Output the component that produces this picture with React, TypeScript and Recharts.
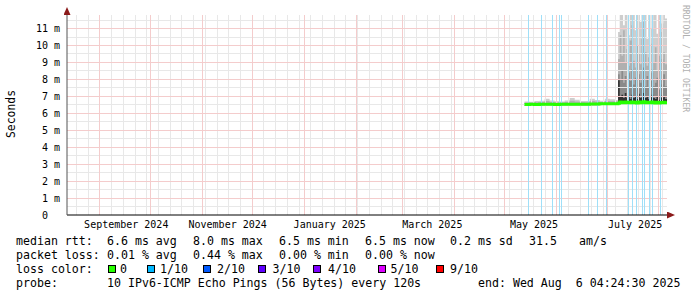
import React from 'react';
import { ComposedChart, Area, Line, XAxis, YAxis, ReferenceLine } from 'recharts';

// time unit: days since 1 Sep 2024 00:00
const startDay = -19.72;
const endDay = 338.85;

const days = [
  253.7, 256.7, 259.7, 262.7, 265.7, 268.7, 271.7, 274.7, 277.7, 280.7,
  283.7, 286.7, 289.7, 292.7, 295.7, 298.7, 301.7, 304.7, 307.7,
  309.6, 310.6, 311.6, 312.6, 313.6, 314.6, 315.6, 316.6, 317.6, 318.6,
  319.6, 320.6, 321.6, 322.6, 323.6, 324.6, 325.6, 326.6, 327.6, 328.6,
  329.6, 330.6, 331.6, 332.6, 333.6, 334.6, 335.6, 336.6, 337.6,
];

// milliseconds
const median = [
  6.52, 6.53, 6.52, 6.53, 6.54, 6.53, 6.52, 6.53, 6.54, 6.53,
  6.54, 6.54, 6.53, 6.55, 6.55, 6.56, 6.56, 6.57, 6.57,
  6.60, 6.66, 6.64, 6.62, 6.67, 6.63, 6.65, 6.62, 6.66, 6.63,
  6.65, 6.61, 6.67, 6.63, 6.65, 6.68, 6.62, 6.65, 6.62, 6.63,
  6.66, 6.62, 6.61, 6.65, 6.61, 6.64, 6.62, 6.65, 6.62,
];

const smokeMin = [
  6.47, 6.47, 6.47, 6.47, 6.48, 6.47, 6.47, 6.47, 6.48, 6.47,
  6.48, 6.48, 6.47, 6.48, 6.48, 6.49, 6.49, 6.50, 6.50,
  6.52, 6.54, 6.53, 6.52, 6.54, 6.52, 6.53, 6.52, 6.54, 6.52,
  6.53, 6.51, 6.54, 6.52, 6.53, 6.55, 6.52, 6.53, 6.51, 6.52,
  6.54, 6.52, 6.51, 6.53, 6.51, 6.53, 6.52, 6.53, 6.51,
];

const smokeMax = [
  6.70, 6.68, 6.72, 6.74, 6.86, 6.76, 6.71, 6.70, 6.75, 6.90,
  6.80, 6.73, 6.72, 6.86, 6.78, 6.74, 6.86, 6.83, 6.79,
  10.8, 11.8, 11.8, 11.2, 11.8, 11.8, 10.6, 11.8, 11.8, 11.8,
  10.9, 11.8, 11.8, 11.4, 11.8, 11.8, 11.8, 10.4, 11.8, 11.8,
  11.0, 11.8, 11.8, 10.7, 11.8, 11.8, 11.3, 11.8, 11.6,
];

const smokeMid = [
  6.64, 6.63, 6.65, 6.66, 6.72, 6.67, 6.64, 6.64, 6.67, 6.74,
  6.70, 6.66, 6.65, 6.73, 6.69, 6.67, 6.72, 6.71, 6.69,
  9.2, 10.6, 9.4, 10.9, 9.0, 9.8, 8.8, 10.3, 11.2, 9.1,
  8.7, 10.0, 9.5, 8.9, 10.4, 11.4, 9.6, 8.8, 9.3, 10.1,
  8.6, 9.0, 9.9, 8.5, 9.4, 10.8, 9.2, 9.6, 8.9,
];

const smokeDark = [
  6.57, 6.58, 6.57, 6.58, 6.60, 6.58, 6.57, 6.58, 6.59, 6.60,
  6.59, 6.59, 6.58, 6.61, 6.60, 6.61, 6.62, 6.62, 6.62,
  8.3, 8.0, 8.5, 7.8, 8.2, 7.6, 8.4, 7.9, 8.6, 7.7,
  8.1, 7.5, 8.3, 7.8, 8.0, 8.7, 7.6, 8.2, 7.5, 7.9,
  8.4, 7.6, 7.8, 8.1, 7.4, 8.0, 7.7, 8.3, 7.6,
];

const smokeInner = [
  6.52, 6.53, 6.52, 6.53, 6.54, 6.53, 6.52, 6.53, 6.54, 6.53,
  6.54, 6.54, 6.53, 6.55, 6.55, 6.56, 6.56, 6.57, 6.57,
  7.95, 7.0, 7.1, 6.9, 7.2, 6.9, 7.0, 6.85, 7.1, 6.9,
  7.0, 6.85, 7.15, 6.9, 7.0, 7.2, 6.9, 7.0, 6.85, 6.95,
  7.1, 6.9, 6.85, 7.0, 6.8, 7.05, 6.9, 7.0, 6.85,
];

// times with 1/10 packet loss
const lossDays = [
  256.0, 263.7, 270.3, 274.9, 276.1, 291.8, 297.2, 302.8,
  316.1, 318.5, 320.9, 324.5, 325.4, 328.1, 329.9, 334.7,
];

const monthStarts = [0, 30, 61, 91, 122, 153, 181, 212, 242, 273, 303, 334];
const labelDays = [15.7, 76.3, 137.3, 198.6, 259.4, 319.8];
const labelNames = ['September 2024', 'November 2024', 'January 2025', 'March 2025', 'May 2025', 'July 2025'];

const yTicks = [0, 1, 2, 3, 4, 5, 6, 7, 8, 9, 10, 11];
const majorY = [1, 2, 3, 4, 5, 6, 7, 8, 9, 10, 11];
const minorY = [0.5, 1.5, 2.5, 3.5, 4.5, 5.5, 6.5, 7.5, 8.5, 9.5, 10.5, 11.5];

const lossColors = [
  { label: '0', color: '#26ff00', box: 108, text: 120 },
  { label: '1/10', color: '#00b8ff', box: 147, text: 160 },
  { label: '2/10', color: '#0059ff', box: 203, text: 217 },
  { label: '3/10', color: '#5e00ff', box: 258, text: 272.5 },
  { label: '4/10', color: '#7e00ff', box: 313, text: 328 },
  { label: '5/10', color: '#dd00ff', box: 377.5, text: 390.5 },
  { label: '9/10', color: '#ff0000', box: 435.5, text: 450 },
];

const rows = days.map((t, i) => ({
  t,
  median: median[i],
  outer: [smokeMin[i], smokeMax[i]],
  mid: [smokeMin[i], smokeMid[i]],
  dark: [smokeMin[i], smokeDark[i]],
  inner: [median[i] - 0.04, smokeInner[i]],
}));
rows.push({ ...rows[rows.length - 1], t: endDay });

const weekLines: number[] = [];
for (let d = -14; d <= 336; d += 7) weekLines.push(d);

const mono = 'DejaVu Sans Mono';

const YTick = (props: any) => {
  const { x, y, payload } = props;
  const label = payload.value === 0 ? '0\u00a0\u00a0' : `${payload.value} m`;
  return (
    <text x={x} y={y} dy="0.36em" textAnchor="end" fontFamily={mono} fontSize={10} fill="#000">
      {label}
    </text>
  );
};

const Txt = ({ x, y, children }: { x: number; y: number; children: React.ReactNode }) => (
  <div style={{ position: 'absolute', left: x, top: y - 7, lineHeight: '14px', fontFamily: mono, fontSize: 11.6, whiteSpace: 'pre', color: '#000' }}>
    {children}
  </div>
);

// rrdtool draws 1-on/1-off dotted grid; solid pale tones read the same at this size
const minorGrid = { stroke: '#e8e8e8', strokeWidth: 1, shapeRendering: 'crispEdges' };
const majorGrid = { stroke: '#f4cccc', strokeWidth: 1, shapeRendering: 'crispEdges' };

export default function App() {
  return (
    <div style={{ position: 'absolute', left: 0, top: 0, width: 697, height: 297, background: '#fff', overflow: 'hidden' }}>
      <svg width={0} height={0} style={{ position: 'absolute' }}>
        <defs>
          <marker id="axArrow" markerWidth={9} markerHeight={8} refX={0} refY={3.5} orient="auto-start-reverse" markerUnits="userSpaceOnUse">
            <path d="M0,0 L8,3.5 L0,7 z" fill="#8b1a1a" />
          </marker>
        </defs>
      </svg>
      <ComposedChart width={697} height={297} data={rows} margin={{ top: 15, right: 30, bottom: 81, left: 66 }}>
        <XAxis
          type="number"
          dataKey="t"
          domain={[startDay, endDay]}
          allowDataOverflow
          ticks={labelDays}
          interval={0}
          height={1}
          tickLine={false}
          tickSize={4}
          tickMargin={2}
          tickFormatter={(v: number) => labelNames[labelDays.indexOf(v)]}
          tick={{ fontFamily: mono, fontSize: 10, fill: '#000' }}
          axisLine={{ stroke: '#000', markerEnd: 'url(#axArrow)' }}
        />
        <YAxis
          type="number"
          domain={[0, 11.8]}
          allowDataOverflow
          ticks={yTicks}
          interval={0}
          width={1}
          tickLine={false}
          tickSize={5}
          tickMargin={2}
          tick={<YTick />}
          axisLine={{ stroke: '#555', markerStart: 'url(#axArrow)' }}
        />
        <Area type="stepAfter" dataKey="outer" fill="#cecece" fillOpacity={1} stroke="none" isAnimationActive={false} dot={false} activeDot={false} />
        <Area type="stepAfter" dataKey="mid" fill="#b0b0b0" fillOpacity={1} stroke="none" isAnimationActive={false} dot={false} activeDot={false} />
        <Area type="stepAfter" dataKey="dark" fill="#8a8a8a" fillOpacity={1} stroke="none" isAnimationActive={false} dot={false} activeDot={false} />
        <Area type="stepAfter" dataKey="inner" fill="#333333" fillOpacity={1} stroke="none" isAnimationActive={false} dot={false} activeDot={false} />
        {minorY.map((v) => (
          <ReferenceLine key={`my${v}`} y={v} {...minorGrid} />
        ))}
        {weekLines.map((d) => (
          <ReferenceLine key={`w${d}`} x={d} {...minorGrid} />
        ))}
        {majorY.map((v) => (
          <ReferenceLine key={`My${v}`} y={v} {...majorGrid} />
        ))}
        {monthStarts.map((d) => (
          <ReferenceLine key={`m${d}`} x={d} {...majorGrid} />
        ))}
        {lossDays.map((d) => (
          <ReferenceLine key={`l${d}`} x={d} stroke="#9fdff8" strokeWidth={1} shapeRendering="crispEdges" />
        ))}
        <Line type="stepAfter" dataKey="median" stroke="#26ff00" strokeWidth={3} dot={false} activeDot={false} isAnimationActive={false} />
      </ComposedChart>

      <svg width={697} height={297} style={{ position: 'absolute', left: 0, top: 0, pointerEvents: 'none' }}>
        <text transform="translate(15,114) rotate(-90)" textAnchor="middle" fontFamily={mono} fontSize={11.4} fill="#000">
          Seconds
        </text>
        <text transform="translate(683,5) rotate(90)" fontFamily={mono} fontSize={8.1} fill="#b0b0b0">
          RRDTOOL / TOBI OETIKER
        </text>
      </svg>

      <Txt x={16} y={241}>median rtt:</Txt>
      <Txt x={107} y={241}>6.6 ms avg</Txt>
      <Txt x={193} y={241}>8.0 ms max</Txt>
      <Txt x={279} y={241}>6.5 ms min</Txt>
      <Txt x={365} y={241}>6.5 ms now</Txt>
      <Txt x={450} y={241}>0.2 ms sd</Txt>
      <Txt x={529} y={241}>31.5</Txt>
      <Txt x={579} y={241}>am/s</Txt>

      <Txt x={16} y={255}>packet loss:</Txt>
      <Txt x={107} y={255}>0.01 % avg</Txt>
      <Txt x={193} y={255}>0.44 % max</Txt>
      <Txt x={279} y={255}>0.00 % min</Txt>
      <Txt x={365} y={255}>0.00 % now</Txt>

      <Txt x={16} y={269}>loss color:</Txt>
      {lossColors.map((c) => (
        <React.Fragment key={c.label}>
          <div style={{ position: 'absolute', left: c.box, top: 265, width: 6, height: 6, background: c.color, border: '1px solid #000' }} />
          <Txt x={c.text} y={269}>{c.label}</Txt>
        </React.Fragment>
      ))}

      <Txt x={16} y={283}>probe:</Txt>
      <Txt x={107} y={283}>10 IPv6-ICMP Echo Pings (56 Bytes) every 120s</Txt>
      <Txt x={478} y={283}>end: Wed Aug  6 04:24:30 2025</Txt>
    </div>
  );
}
